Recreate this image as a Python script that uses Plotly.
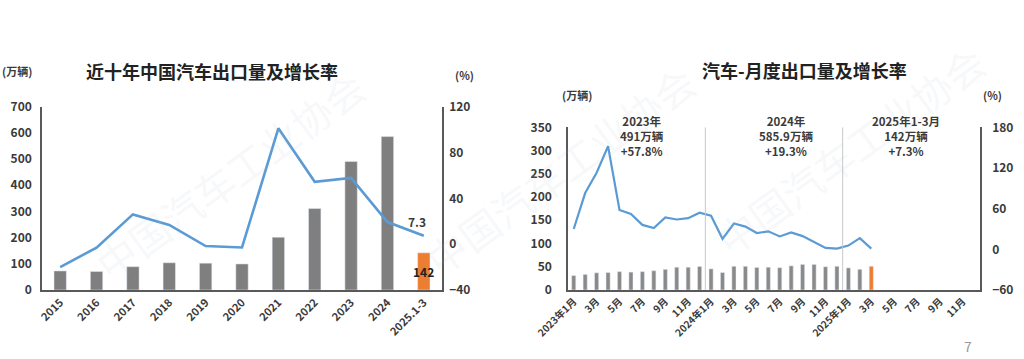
import plotly.graph_objects as go

# ---------------- data ----------------
years = ["2015", "2016", "2017", "2018", "2019", "2020", "2021", "2022", "2023", "2024", "2025.1-3"]
annual_exports = [72.8, 70.8, 89.1, 104.1, 102.4, 99.5, 201.5, 311.1, 491.0, 585.9, 142.0]
annual_growth = [-20.0, -3.0, 26.0, 16.8, -1.6, -2.9, 101.1, 54.4, 57.8, 19.3, 7.3]

months = ["2023-01", "2023-02", "2023-03", "2023-04", "2023-05", "2023-06",
          "2023-07", "2023-08", "2023-09", "2023-10", "2023-11", "2023-12",
          "2024-01", "2024-02", "2024-03", "2024-04", "2024-05", "2024-06",
          "2024-07", "2024-08", "2024-09", "2024-10", "2024-11", "2024-12",
          "2025-01", "2025-02", "2025-03", "2025-04", "2025-05", "2025-06",
          "2025-07", "2025-08", "2025-09", "2025-10", "2025-11", "2025-12"]
month_ticks = ["2023-01", "2023-03", "2023-05", "2023-07", "2023-09", "2023-11",
               "2024-01", "2024-03", "2024-05", "2024-07", "2024-09", "2024-11",
               "2025-01", "2025-03", "2025-05", "2025-07", "2025-09", "2025-11"]
month_tick_text = ["2023年1月", "3月", "5月", "7月", "9月", "11月",
                   "2024年1月", "3月", "5月", "7月", "9月", "11月",
                   "2025年1月", "3月", "5月", "7月", "9月", "11月"]
monthly_exports = [31, 33.5, 37, 37.5, 39.5, 38.5, 39.5, 41.5, 44.5, 49, 49, 50.5,
                   45.5, 37.5, 51, 51, 48.5, 49, 48, 52, 55, 55, 50, 51,
                   47.5, 44.5, 51]
monthly_growth = [30, 83, 113, 152, 58, 52, 36, 31.5, 47, 44, 46, 54,
                  49.5, 15.5, 38, 33.5, 24, 26.5, 19, 25, 19.5, 10.5, 2, 1,
                  5.5, 16.5, 1]
period_notes = ["2023年<br>491万辆<br>+57.8%",
                "2024年<br>585.9万辆<br>+19.3%",
                "2025年1-3月<br>142万辆<br>+7.3%"]

GRAY = "#7f7f7f"
ORANGE = "#ED7D31"
BLUE = "#5B9BD5"
AX = "#595959"
TXT = "#3a3a3a"
FONT = "Noto Sans CJK SC"

W, H = 1024, 359
def px(x):
    return x / W
def py(y):
    return 1 - y / H

fig = go.Figure()

# left chart
fig.add_trace(go.Bar(
    x=years, y=annual_exports, xaxis="x", yaxis="y",
    marker_color=[GRAY] * (len(years) - 1) + [ORANGE], width=0.34,
    showlegend=False, hoverinfo="x+y"))
fig.add_trace(go.Scatter(
    x=years, y=annual_growth, xaxis="x", yaxis="y2", mode="lines",
    line=dict(color=BLUE, width=2.6), showlegend=False))

# right chart
fig.add_trace(go.Bar(
    x=months[:len(monthly_exports)], y=monthly_exports, xaxis="x2", yaxis="y3",
    marker_color=["#8a8a8a"] * (len(monthly_exports) - 1) + [ORANGE], width=0.36,
    showlegend=False))
fig.add_trace(go.Scatter(
    x=months[:len(monthly_growth)], y=monthly_growth, xaxis="x2", yaxis="y4", mode="lines",
    line=dict(color=BLUE, width=2.2), showlegend=False))

tickf = dict(family=FONT, size=12, color=TXT, weight="bold")
common_y = dict(showgrid=False, zeroline=False, showline=True, linecolor=AX,
                linewidth=1.5, ticks="", tickfont=tickf, automargin=False)

fig.update_layout(
    width=W, height=H, margin=dict(l=0, r=0, t=0, b=0, autoexpand=False),
    paper_bgcolor="white", plot_bgcolor="rgba(0,0,0,0)",
    bargap=0.2,
    xaxis=dict(domain=[px(42), px(442)], anchor="y", type="category",
               categoryorder="array", categoryarray=years,
               showline=True, linecolor=AX, linewidth=1.5, ticks="",
               tickangle=-45, showgrid=False, automargin=False,
               tickfont=dict(family=FONT, size=11, color=TXT, weight="bold")),
    yaxis=dict(domain=[py(290), py(106.7)], anchor="x", range=[0, 700], dtick=100,
               ticklabelstandoff=6, **common_y),
    yaxis2=dict(overlaying="y", anchor="x", side="right", range=[-40, 120], dtick=40,
                ticklabelstandoff=3, **common_y),
    xaxis2=dict(domain=[px(568), px(980)], anchor="y3", type="category",
                categoryorder="array", categoryarray=months, range=[-0.5, 35.5],
                tickmode="array", tickvals=month_ticks, ticktext=month_tick_text,
                showline=True, linecolor=AX, linewidth=1.5, ticks="",
                tickangle=-45, showgrid=False, automargin=False,
                tickfont=dict(family=FONT, size=10, color=TXT, weight="bold")),
    yaxis3=dict(domain=[py(290), py(127.3)], anchor="x2", range=[0, 350], dtick=50,
                ticklabelstandoff=12, **common_y),
    yaxis4=dict(overlaying="y3", anchor="x2", side="right", range=[-60, 180], dtick=60,
                ticklabelstandoff=8, **common_y),
)

# separators between years on monthly chart
for b in (11.5, 23.5):
    fig.add_shape(type="line", xref="x2", yref="y3", x0=b, x1=b, y0=0, y1=350,
                  line=dict(color="#c8c8c8", width=1))

ann = []
# faint watermarks
for (x, y) in [(230, 175), (560, 170), (850, 150)]:
    ann.append(dict(x=px(x), y=py(y), text="中国汽车工业协会", textangle=-36,
                    font=dict(family=FONT, size=40, color="rgba(170,185,205,0.11)")))
# titles / units
ann += [
    dict(x=px(212), y=py(71), text="近十年中国汽车出口量及增长率",
         font=dict(family=FONT, size=18, color="#222", weight="bold")),
    dict(x=px(17), y=py(71), text="(万辆)", font=dict(family=FONT, size=11, color=TXT, weight="bold")),
    dict(x=px(464), y=py(75), text="(%)", font=dict(family=FONT, size=11, color=TXT, weight="bold")),
    dict(x=px(804), y=py(70), text="汽车-月度出口量及增长率",
         font=dict(family=FONT, size=18, color="#222", weight="bold")),
    dict(x=px(577), y=py(95), text="(万辆)", font=dict(family=FONT, size=11, color=TXT, weight="bold")),
    dict(x=px(992), y=py(95), text="(%)", font=dict(family=FONT, size=11, color=TXT, weight="bold")),
    dict(x=px(968), y=py(346), text="7", font=dict(family=FONT, size=14, color="#9a9a9a")),
]
# period notes on monthly chart
for note, xp in zip(period_notes, (642, 786, 906)):
    ann.append(dict(x=px(xp), y=py(136), text=note, align="center",
                    font=dict(family=FONT, size=11.5, color=TXT, weight="bold")))
for a in ann:
    a.update(xref="paper", yref="paper", showarrow=False,
             xanchor="center", yanchor="middle")
# data labels on annual chart
ann.append(dict(x=years[-1], y=annual_growth[-1], xref="x", yref="y2", showarrow=False,
                text=f"{annual_growth[-1]}", xshift=-7, yshift=14,
                xanchor="center", yanchor="middle",
                font=dict(family=FONT, size=12, color=TXT, weight="bold")))
ann.append(dict(x=years[-1], y=annual_exports[-1] / 2, xref="x", yref="y", showarrow=False,
                text=f"{annual_exports[-1]:.0f}", xanchor="center", yanchor="middle",
                font=dict(family=FONT, size=12, color="#222", weight="bold")))
fig.update_layout(annotations=ann)

fig.write_html("out.html", config={"displayModeBar": False},
               post_script="document.body.style.margin='0';document.body.style.overflow='hidden';")
